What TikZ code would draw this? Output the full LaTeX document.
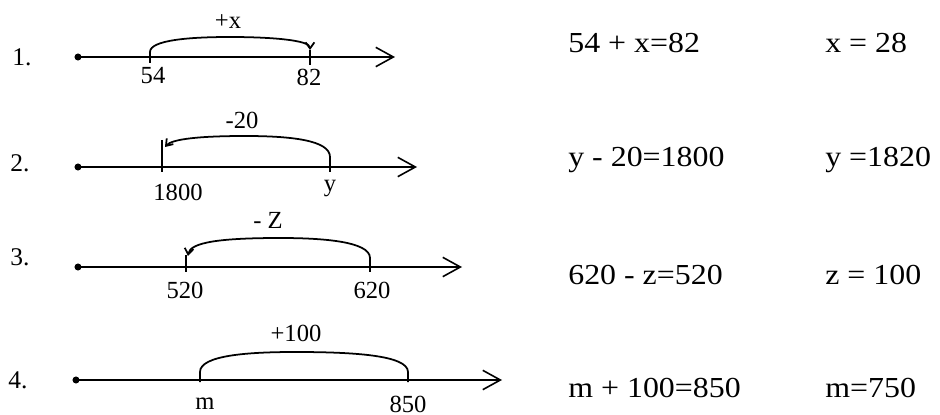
\documentclass[tikz,border=0pt]{standalone}
\usepackage{fontspec}
\setmainfont{Liberation Serif}
\newfontfamily\eqfont[FakeStretch=1.1]{Liberation Serif}
\usetikzlibrary{arrows.meta}

\begin{document}
\begin{tikzpicture}[x=0.02cm,y=-0.02cm,
    axis/.style={line width=1.1pt,-{Straight Barb[length=10pt,width=11pt,line width=0.9pt]}},
    hop/.style={line width=1pt},
    hoptip/.style={hop,-{Straight Barb[length=3.5pt,width=5pt]}},
    dot/.style={circle,fill,inner sep=0pt,minimum size=4pt},
    num/.style={font=\fontsize{14.5}{15}\selectfont,inner sep=1pt},
    lbl/.style={font=\fontsize{14}{15}\selectfont,inner sep=1pt},
    eq/.style={font=\eqfont\fontsize{16.5}{18}\selectfont,anchor=west,inner sep=0pt}]
    \useasboundingbox (0,0) rectangle (940,415);
    % 1.
    \node[num] (n1) at (22,57) {1.};
    \node[dot] (o1) at (78,57) {};
    \coordinate (e1) at (395,57);
    \draw[axis] (o1.center) -- (e1);
    \coordinate (a1) at (150,63);
    \coordinate (b1) at (310,50);
    \coordinate (c1) at (310,65);
    \draw[hoptip] (a1) -- (150,52) .. controls (150,40) and (190,37) .. (230,37) .. controls (270,37) and (310,40) .. (b1);
    \draw[hop] (b1) -- (c1);
    \node[lbl] (p1) at (153,76) {54};
    \node[lbl] (q1) at (309,77) {82};
    \node[lbl] (j1) at (228,22) {+x};
    \node[eq] (s1) at (568,43) {54 + x=82};
    \node[eq] (r1) at (825,43) {x = 28};
    % 2.
    \node[num] (n2) at (20,163) {2.};
    \node[dot] (o2) at (78,167) {};
    \coordinate (e2) at (417,167);
    \draw[axis] (o2.center) -- (e2);
    \coordinate (a2) at (330,172);
    \coordinate (b2) at (165,147);
    \draw[hoptip] (a2) -- (330,157) .. controls (330,140) and (290,136) .. (245,136) .. controls (200,136) and (172,139) .. (b2);
    \draw[hop] (162,140) -- (162,172);
    \node[lbl] (p2) at (178,192) {1800};
    \node[lbl] (q2) at (330,189) {y};
    \node[lbl] (j2) at (242,120) {-20};
    \node[eq] (s2) at (568,160) {y - 20=1800};
    \node[eq] (r2) at (825,160) {y =1820};
    % 3.
    \node[num] (n3) at (20,257) {3.};
    \node[dot] (o3) at (78,267) {};
    \coordinate (e3) at (462,267);
    \draw[axis] (o3.center) -- (e3);
    \coordinate (a3) at (370,272);
    \coordinate (b3) at (188,256);
    \draw[hoptip] (a3) -- (370,258) .. controls (370,241) and (320,238) .. (280,238) .. controls (222,238) and (190,242) .. (b3);
    \draw[hop] (186,255) -- (186,272);
    \node[lbl] (p3) at (185,290) {520};
    \node[lbl] (q3) at (372,290) {620};
    \node[lbl] (j3) at (268,220) {- Z};
    \node[eq] (s3) at (568,275) {620 - z=520};
    \node[eq] (r3) at (825,275) {z = 100};
    % 4.
    \node[num] (n4) at (18,380) {4.};
    \node[dot] (o4) at (76,380) {};
    \coordinate (e4) at (502,380);
    \draw[axis] (o4.center) -- (e4);
    \coordinate (a4) at (200,382);
    \coordinate (b4) at (408,382);
    \draw[hop] (a4) -- (200,372) .. controls (200,355) and (250,352) .. (295,352) .. controls (352,352) and (408,355) .. (408,372) -- (b4);
    \node[lbl] (p4) at (205,404) {m};
    \node[lbl] (q4) at (408,404) {850};
    \node[lbl] (j4) at (296,333) {+100};
    \node[eq] (s4) at (568,388) {m + 100=850};
    \node[eq] (r4) at (825,388) {m=750};
\end{tikzpicture}
\end{document}
